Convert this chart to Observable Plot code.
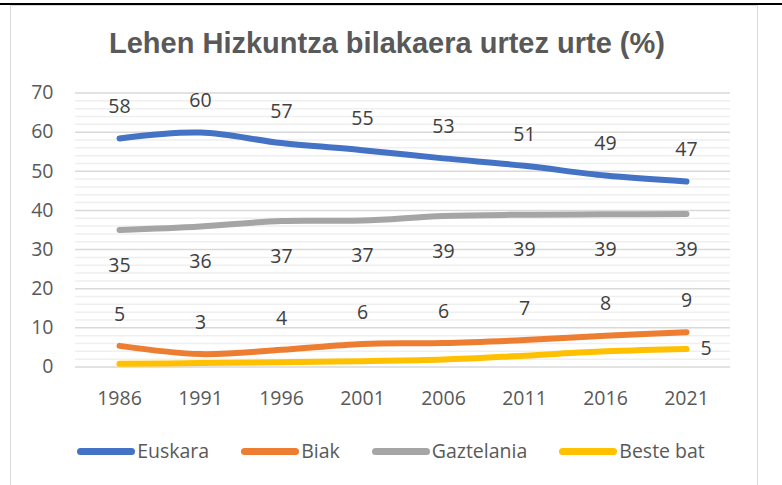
<!DOCTYPE html>
<html>
<head>
<meta charset="utf-8">
<script src="https://cdn.jsdelivr.net/npm/d3@7"></script>
<script src="https://cdn.jsdelivr.net/npm/@observablehq/plot@0.6"></script>
<style>
  html, body { margin: 0; padding: 0; background: #fff; overflow: hidden; }
  #wrap { position: relative; width: 782px; height: 485px; overflow: hidden; background: #fff; }
  #topline { position: absolute; left: 0; top: 3px; width: 782px; height: 2px; background: #000; }
  #frame { position: absolute; left: 10px; top: 5px; width: 748px; height: 520px; border: 1.5px solid #d9d9d9; box-sizing: border-box; }
  #title { position: absolute; left: 0; width: 774px; top: 29px; text-align: center; font-family: "Liberation Sans", Arial, sans-serif; font-weight: bold; font-size: 29px; line-height: 29px; color: #595959; white-space: nowrap; }
  #chart { position: absolute; left: 0; top: 0; }
  #legend { position: absolute; left: 0; width: 782px; top: 438px; display: flex; justify-content: center; font-family: "Open Sans", sans-serif; font-size: 19.5px; color: #595959; line-height: 26px; }
  .item { display: flex; align-items: center; margin: 0 16px; }
  .sw { width: 58px; height: 7px; border-radius: 4px; margin-right: 2px; }
</style>
</head>
<body>
<div id="wrap">
  <div id="topline"></div>
  <div id="frame"></div>
  <div id="chart"></div>
  <div id="title">Lehen Hizkuntza bilakaera urtez urte (%)</div>
  <div id="legend"></div>
</div>
<script>
const years = ["1986", "1991", "1996", "2001", "2006", "2011", "2016", "2021"];
const series = ["Euskara", "Biak", "Gaztelania", "Beste bat"];
const colors = ["#4472C4", "#ED7D31", "#A5A5A5", "#FFC000"];

const euskara    = [58.4, 59.9, 57.2, 55.4, 53.3, 51.4, 48.9, 47.4];
const biak       = [5.4, 3.3, 4.4, 5.9, 6.1, 6.9, 8.0, 8.9];
const gaztelania = [35.0, 35.9, 37.3, 37.4, 38.6, 38.9, 39.0, 39.1];
const besteBat   = [0.8, 1.0, 1.2, 1.5, 1.9, 2.9, 4.0, 4.6];

const majorTicks = [0, 10, 20, 30, 40, 50, 60, 70];
const minorTicks = d3.range(0, 71, 2).filter(v => v % 10 !== 0);

const valuesBySeries = [euskara, biak, gaztelania, besteBat];
const data = series.flatMap((s, i) =>
  valuesBySeries[i].map((v, j) => ({series: s, year: years[j], value: v}))
);
const bySeries = s => data.filter(d => d.series === s);
const lastBeste = bySeries("Beste bat").slice(-1);

const labelFont = 19.5;

const chart = Plot.plot({
  width: 782,
  height: 485,
  marginTop: 92.5,
  marginBottom: 118.5,
  marginLeft: 75,
  marginRight: 52,
  style: {fontFamily: "'Open Sans', sans-serif", background: "transparent", overflow: "visible"},
  x: {type: "point", domain: years, padding: 0.5, label: null},
  y: {domain: [0, 70], label: null},
  color: {domain: series, range: colors},
  marks: [
    Plot.ruleY(minorTicks, {stroke: "#efefef", strokeWidth: 1.5}),
    Plot.ruleY(majorTicks, {stroke: "#d9d9d9", strokeWidth: 1.5}),
    Plot.axisY({ticks: majorTicks, tickSize: 0, tickPadding: 22, fontSize: labelFont, fill: "#595959", label: null}),
    Plot.axisX({tickSize: 0, tickPadding: 24, fontSize: labelFont, fill: "#595959", label: null}),
    Plot.line(data, {x: "year", y: "value", z: "series", stroke: "series", strokeWidth: 6, strokeLinecap: "round", strokeLinejoin: "round", curve: "catmull-rom"}),
    Plot.text(bySeries("Euskara"), {x: "year", y: "value", text: d => Math.round(d.value), dy: -31.5, fontSize: labelFont, fill: "#404040"}),
    Plot.text(bySeries("Biak"), {x: "year", y: "value", text: d => Math.round(d.value), dy: -31.5, fontSize: labelFont, fill: "#404040"}),
    Plot.text(bySeries("Gaztelania"), {x: "year", y: "value", text: d => Math.round(d.value), dy: 35.5, fontSize: labelFont, fill: "#404040"}),
    Plot.text(lastBeste, {x: "year", y: "value", text: d => Math.round(d.value), dx: 19.5, fontSize: labelFont, fill: "#404040"})
  ]
});
document.getElementById("chart").appendChild(chart);

const legend = document.getElementById("legend");
series.forEach((s, i) => {
  const item = document.createElement("div");
  item.className = "item";
  const sw = document.createElement("div");
  sw.className = "sw";
  sw.style.background = colors[i];
  const t = document.createElement("span");
  t.textContent = s;
  item.appendChild(sw);
  item.appendChild(t);
  legend.appendChild(item);
});
</script>
</body>
</html>
